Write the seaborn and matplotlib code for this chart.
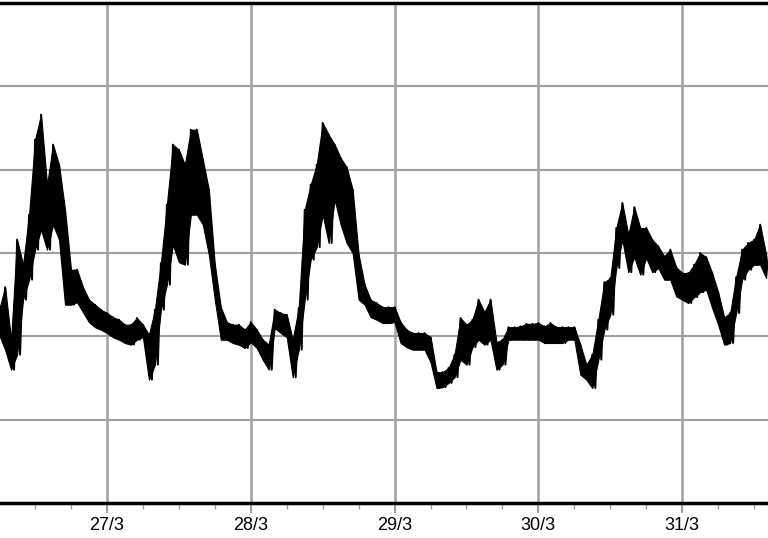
import numpy as np
import pandas as pd
import matplotlib
matplotlib.use("Agg")
import matplotlib.pyplot as plt
import matplotlib.dates as mdates
from matplotlib.ticker import FuncFormatter, MultipleLocator
import seaborn as sns

# hourly readings from 26/3 06:00 - upper and lower swing inside each hour
start = "2015-03-26 06:00"

hi = [23.2, 25.9, 19.6, 31.6, 28.6, 34.6, 43.6, 46.6, 38.2, 43.0, 40.6, 35.2,   # 06-17
      28.0, 28.0, 25.9, 24.4, 23.8, 23.2,                                       # 18-23
      22.8, 22.3, 22.0, 21.4, 21.4, 22.2, 21.4, 20.2, 23.2, 28.8, 35.8, 43.0,   # 27/3 00-11
      42.4, 40.6, 44.8, 44.8, 41.2, 37.6, 28.6, 23.5, 21.7, 21.4, 21.4, 20.8,   # 12-23
      21.7, 20.8, 19.6, 19.0, 23.2, 22.8, 22.6, 19.6, 23.4, 35.2, 38.2, 40.6,   # 28/3 00-11
      45.6, 44.2, 43.0, 41.4, 40.3, 37.6, 29.8, 26.2, 24.4, 24.0, 23.5, 23.5,   # 12-23
      23.5, 21.7, 20.8, 20.4, 20.4, 20.4, 19.9, 15.7, 15.7, 16.2, 17.8, 22.2,   # 29/3 00-11
      21.4, 22.0, 24.4, 22.9, 24.4, 19.3, 19.6, 21.1, 21.1, 21.2, 21.5, 21.5,   # 12-23
      21.6, 21.2, 21.6, 21.1, 21.1, 21.1, 21.1, 19.0, 16.6, 17.8, 22.0, 26.5,   # 30/3 00-11
      27.0, 33.0, 36.0, 32.2, 35.5, 33.0, 33.0, 31.6, 30.8, 29.6, 30.4, 28.3,   # 12-23
      27.6, 27.6, 28.6, 30.0, 29.5, 27.6, 25.3, 22.3, 22.8, 27.1, 30.4, 31.2,   # 31/3 00-11
      31.6, 33.4, 29.8]                                                          # 12-14

lo = [20.2, 18.4, 16.0, 17.8, 24.4, 26.8, 30.4, 32.8, 30.4, 33.4, 31.6, 23.8,
      23.8, 24.1, 22.9, 21.7, 21.1, 20.8,
      20.4, 19.9, 19.6, 19.2, 19.0, 19.6, 19.9, 14.8, 16.6, 23.2, 26.2, 31.0,
      28.9, 28.6, 34.6, 34.6, 33.4, 29.8, 24.4, 19.6, 19.6, 19.2, 19.0, 18.6,
      19.3, 18.6, 17.2, 16.0, 21.0, 20.4, 19.9, 15.1, 18.4, 24.4, 29.2, 30.7,
      34.6, 31.2, 36.4, 33.4, 31.2, 30.0, 24.4, 23.8, 22.3, 22.0, 21.6, 21.6,
      21.7, 19.2, 18.7, 18.4, 18.4, 18.4, 16.9, 13.8, 13.9, 14.4, 15.1, 17.2,
      16.6, 18.7, 19.6, 19.0, 19.6, 16.0, 16.6, 19.6, 19.6, 19.6, 19.6, 19.6,
      19.6, 19.2, 19.2, 19.2, 19.2, 19.6, 19.6, 15.4, 14.8, 13.8, 17.2, 20.8,
      22.6, 28.2, 31.6, 27.7, 29.5, 27.4, 29.4, 27.7, 28.2, 26.8, 26.8, 24.8,
      24.4, 24.0, 24.7, 25.3, 25.6, 23.4, 21.4, 19.0, 19.2, 22.8, 26.8, 28.0,
      28.6, 28.6, 27.0]

hours = pd.date_range(start, periods=len(hi), freq="h")
df = pd.DataFrame({
    "time": np.concatenate([hours.values, (hours + pd.Timedelta(minutes=30)).values]),
    "value": hi + lo,
}).sort_values("time")

sns.set_style("white")
plt.rcParams["font.family"] = ["Liberation Sans", "DejaVu Sans"]

fig = plt.figure(figsize=(7.68, 5.38), dpi=100)
ax = fig.add_axes([0, 35 / 538, 1, 500 / 538])

# min/max band of each hour, then the swing line on top
ax.fill_between(hours, lo, hi, color="black", linewidth=0.8)
sns.lineplot(data=df, x="time", y="value", estimator=None, color="black",
             linewidth=1.4, ax=ax)

ax.set_xlim(pd.Timestamp("2015-03-26 06:09"), pd.Timestamp("2015-03-31 14:19"))
ax.set_ylim(0, 60)
ax.yaxis.set_major_locator(MultipleLocator(10))
ax.tick_params(axis="y", left=False, labelleft=False)

ax.xaxis.set_major_locator(mdates.DayLocator())
ax.xaxis.set_minor_locator(mdates.HourLocator(byhour=[6, 12, 18]))
ax.xaxis.set_major_formatter(FuncFormatter(
    lambda x, pos: f"{mdates.num2date(x).day}/{mdates.num2date(x).month}"))
ax.tick_params(axis="x", which="major", bottom=True, length=7, width=1.5,
               color="#a0a0a0", pad=3, labelsize=13, labelcolor="black")
ax.tick_params(axis="x", which="minor", bottom=True, length=4, width=1,
               color="#a0a0a0")

ax.set_axisbelow(True)
ax.grid(True, which="major", axis="x", color="#a0a0a0", linewidth=1.8)
ax.grid(True, which="major", axis="y", color="#a0a0a0", linewidth=1.5)

for side in ["left", "right"]:
    ax.spines[side].set_visible(False)
for side in ["top", "bottom"]:
    ax.spines[side].set_color("black")
    ax.spines[side].set_linewidth(2.5)

ax.set_xlabel("")
ax.set_ylabel("")

fig.savefig("out.png", dpi=100)
